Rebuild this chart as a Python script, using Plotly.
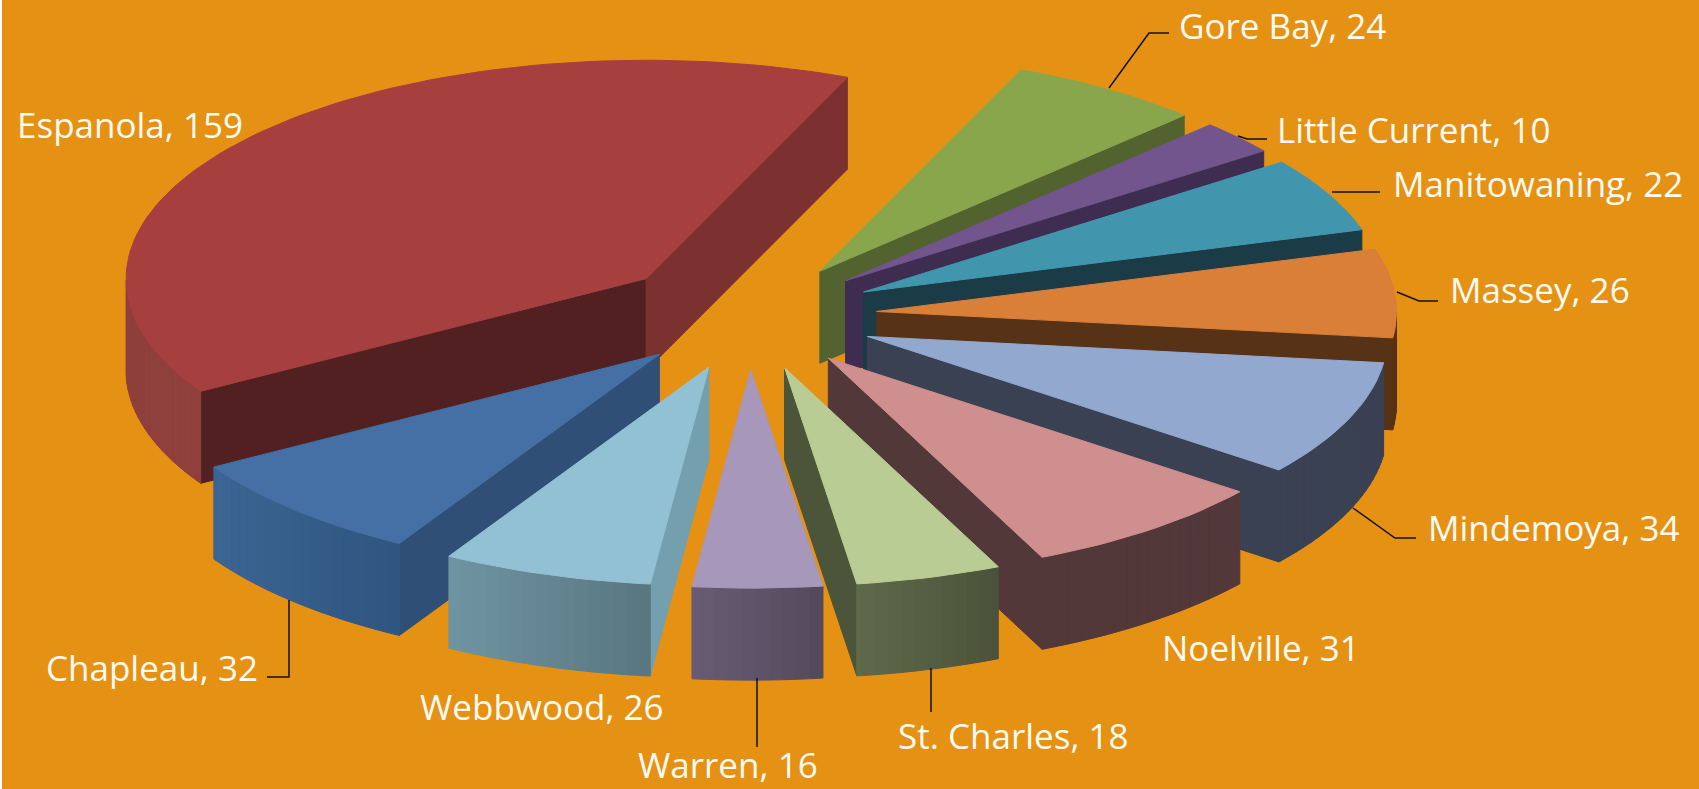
import numpy as np
import plotly.graph_objects as go

# ---- data ----
categories = ["Chapleau", "Espanola", "Gore Bay", "Little Current", "Manitowaning", "Massey",
              "Mindemoya", "Noelville", "St. Charles", "Warren", "Webbwood"]
values = [32, 159, 24, 10, 22, 26, 34, 31, 18, 16, 26]

# ---- styles ----
top_colors = ["#4570A5", "#A5403F", "#89A64D", "#71558C", "#4196AE", "#D97F38",
              "#93A8CF", "#CF8F8E", "#B9CC94", "#A797BB", "#92C1D3"]
radial_start = ["#2F4F77", "#522020", "#536330", "#3E2D50", "#1B3B47", "#573216",
                "#3A4153", "#533839", "#4C543A", "#4C543A", "#749FAF"]
radial_end = ["#2F4F77", "#7C3131", "#536330", "#3E2D50", "#1B3B47", "#573216",
              "#3A4153", "#533839", "#4C543A", "#4C543A", "#749FAF"]
wall_left = ["#3B6593", "#8F3F3C", "#536330", "#3E2D50", "#1B3B47", "#573216",
             "#3A4153", "#533839", "#5F6A4B", "#675C73", "#6F95A2"]
wall_right = ["#2F5580", "#8A3B39", "#536330", "#3E2D50", "#1B3B47", "#573216",
              "#3A4153", "#533839", "#4A5239", "#54495C", "#587580"]
explode = [128, 136, 128, 128, 128, 128, 128, 128, 128, 128, 128]
BG = "#E59114"

# ---- projection of the tilted, exploded pie ----
START, RADIUS, TILT, DEPTH, CX, CY = 210.0, 520, 0.42, 92, 749, 316

# ---- label placement (centre x, centre y) and leader lines ----
label_pos = {"Chapleau": (152, 667), "Espanola": (130, 124), "Gore Bay": (1282, 25),
             "Little Current": (1414, 129), "Manitowaning": (1538, 183), "Massey": (1540, 289),
             "Mindemoya": (1553, 527), "Noelville": (1261, 647), "St. Charles": (1013, 735),
             "Warren": (728, 764), "Webbwood": (542, 706)}
leaders = [[(1109, 88), (1149, 33), (1169, 33)], [(1238, 136), (1247, 139), (1267, 139)],
           [(1332, 192), (1380, 192)], [(1397, 292), (1419, 301), (1438, 301)],
           [(1353, 508), (1395, 538), (1416, 538)], [(931, 668), (931, 712)],
           [(757, 678), (757, 747)], [(289, 600), (289, 677), (267, 677)]]


def mix(a, b, t):
    ca = [int(a[i:i + 2], 16) for i in (1, 3, 5)]
    cb = [int(b[i:i + 2], 16) for i in (1, 3, 5)]
    return "#" + "".join(f"{round(x + (y - x) * t):02X}" for x, y in zip(ca, cb))


def poly(xs, ys, color, name):
    return go.Scatter(x=list(xs), y=list(ys), mode="lines", fill="toself", fillcolor=color,
                      line=dict(color=color, width=1), hoverinfo="skip", name=name,
                      showlegend=False)


edges = START + np.concatenate([[0], np.cumsum(values)]) * 360 / sum(values)
slices = []
for i, cat in enumerate(categories):
    a0, a1 = edges[i], edges[i + 1]
    mid = np.radians((a0 + a1) / 2)
    slices.append((np.cos(mid), i, cat, a0, a1, mid))
slices.sort(key=lambda s: -s[0])

fig = go.Figure()
for _, i, cat, a0, a1, mid in slices:
    ax = CX + explode[i] * np.sin(mid)
    ay = CY - explode[i] * TILT * np.cos(mid)
    px = lambda d: ax + RADIUS * np.sin(np.radians(d))
    py = lambda d: ay - RADIUS * TILT * np.cos(np.radians(d))

    # radial walls that face the viewer
    for edge, normal, col in ((a0, a0 - 90, radial_start[i]), (a1, a1 + 90, radial_end[i])):
        if np.cos(np.radians(normal)) < 0:
            fig.add_trace(poly([ax, px(edge), px(edge), ax, ax],
                               [ay, py(edge), py(edge) + DEPTH, ay + DEPTH, ay], col, cat))

    # outer curved wall, front half only, in shaded strips (left to right on screen)
    angs = np.unique(np.clip(np.arange(np.floor(a0), a1 + 1.5, 1.5), a0, a1))
    xl, xr = min(px(a0), px(a1)), max(px(a0), px(a1))
    for d0, d1 in zip(angs[:-1], angs[1:]):
        if np.cos(np.radians((d0 + d1) / 2)) >= 0:
            continue
        x0, x1 = px(d0), px(d1)
        t = np.clip(((x0 + x1) / 2 - xl) / (xr - xl), 0, 1)
        col = mix(wall_left[i], wall_right[i], t)
        fig.add_trace(poly([x0, x1, x1, x0, x0],
                           [py(d0), py(d1), py(d1) + DEPTH, py(d0) + DEPTH, py(d0)], col, cat))

    # top face
    arc = np.linspace(a0, a1, max(int((a1 - a0) / 1.5), 8))
    fig.add_trace(poly([ax] + [px(d) for d in arc] + [ax], [ay] + [py(d) for d in arc] + [ay],
                       top_colors[i], cat))

for path in leaders:
    fig.add_trace(go.Scatter(x=[p[0] for p in path], y=[p[1] for p in path], mode="lines",
                             line=dict(color="#111111", width=1.5), hoverinfo="skip",
                             showlegend=False))

for cat, val in zip(categories, values):
    x, y = label_pos[cat]
    fig.add_annotation(x=x, y=y, text=f"{cat}, {val}", showarrow=False, xanchor="center",
                       yanchor="middle", borderpad=0,
                       font=dict(family="Open Sans", size=35, color="#FFFBF2"))

fig.update_layout(width=1699, height=789, margin=dict(l=2, r=0, t=0, b=0),
                  paper_bgcolor="#FFFFFF", plot_bgcolor=BG, showlegend=False,
                  xaxis=dict(range=[2, 1699], visible=False, fixedrange=True),
                  yaxis=dict(range=[789, 0], visible=False, fixedrange=True))
fig.write_html("out.html", config={"displayModeBar": False},
               post_script="document.body.style.margin='0';document.body.style.overflow='hidden';")
